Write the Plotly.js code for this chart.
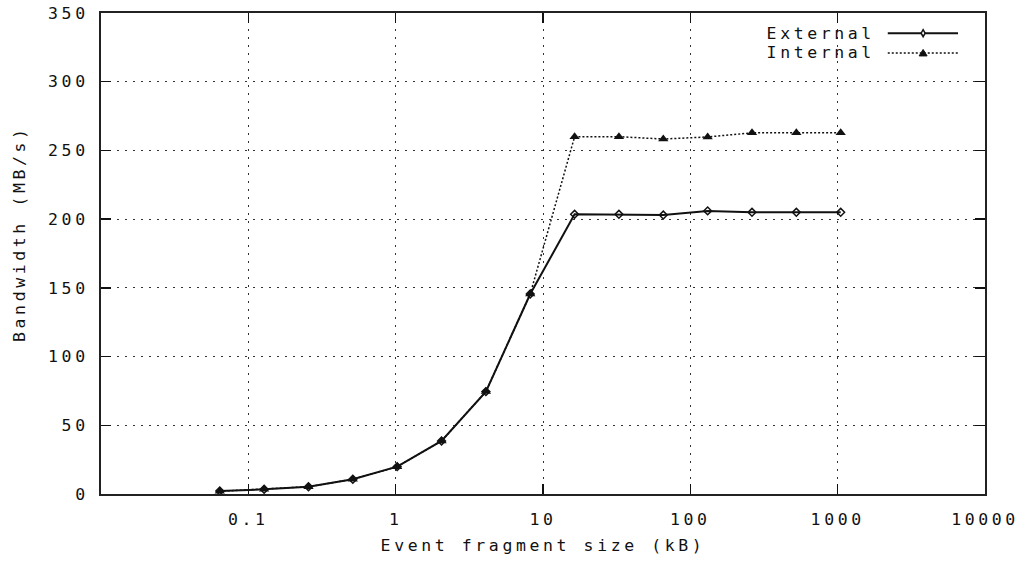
<!DOCTYPE html>
<html>
<head>
<meta charset="utf-8">
<script src="https://cdn.plot.ly/plotly-3.0.1.min.js"></script>
<style>
  html, body { margin: 0; padding: 0; background: #fff; }
  #chart { width: 1021px; height: 563px; }
  .main-svg text { letter-spacing: 3.6px; }
</style>
</head>
<body>
<div id="chart"></div>
<script>
// Event fragment size in kB
const fragmentSize = [0.064, 0.128, 0.256, 0.512, 1.024, 2.048, 4.096, 8.192, 16.384, 32.768, 65.536, 131.072, 262.144, 524.288, 1048.576];
// Bandwidth in MB/s
const externalBW = [2.2, 3.4, 5.3, 10.7, 19.9, 38.6, 74.5, 145.5, 203.5, 203.5, 203, 206, 205, 205, 205];
const internalBW = [2.0, 3.4, 5.3, 10.7, 19.9, 38.6, 74.5, 145.5, 260, 260, 258.3, 259.8, 262.8, 262.8, 262.8];

const xTickVals = [0.1, 1, 10, 100, 1000, 10000];
const xTickText = ['0.1', '1', '10', '100', '1000', '10000'];
const seriesNames = ['External', 'Internal'];

const FONT = {family: 'DejaVu Sans Mono, monospace', size: 16.5, color: '#111'};
const INK = '#111';

const traces = [
  {
    x: fragmentSize, y: externalBW, name: seriesNames[0], type: 'scatter', mode: 'lines+markers',
    line: {color: INK, width: 2},
    marker: {symbol: 'diamond-open', size: 6, color: INK, line: {width: 1.5, color: INK}},
    showlegend: false
  },
  {
    x: fragmentSize, y: internalBW, name: seriesNames[1], type: 'scatter', mode: 'lines+markers',
    line: {color: INK, width: 1.5, dash: '2px,2px'},
    marker: {symbol: 'triangle-up', size: 9, color: INK},
    showlegend: false
  }
];

// legend drawn as annotations + shapes (text first, sample on the right, as in the original)
const legY = [0.958, 0.917];
const legTextX = 0.861;
const legX0 = 0.890, legX1 = 0.9695, legMX = 0.930;

const layout = {
  width: 1021, height: 563,
  margin: {l: 101, r: 36, t: 13, b: 69},
  paper_bgcolor: '#fff', plot_bgcolor: '#fff',
  font: FONT,
  showlegend: false,
  xaxis: {
    type: 'log', range: [-2, 4],
    tickvals: xTickVals, ticktext: xTickText,
    ticks: 'inside', ticklen: 10, tickwidth: 1.5, tickcolor: INK,
    showline: true, linecolor: '#222', linewidth: 2, mirror: 'ticks',
    showgrid: true, gridcolor: '#333', gridwidth: 1, griddash: '2px,6px',
    zeroline: false,
    ticklabelstandoff: 9,
    tickfont: FONT,
    title: {text: 'Event fragment size (kB)', font: FONT, standoff: 12}
  },
  yaxis: {
    range: [0, 350], dtick: 50,
    ticks: 'inside', ticklen: 10, tickwidth: 1.5, tickcolor: INK,
    showline: true, linecolor: '#222', linewidth: 2, mirror: 'ticks',
    showgrid: true, gridcolor: '#333', gridwidth: 1, griddash: '2px,6px',
    zeroline: false,
    ticklabelstandoff: 7,
    tickfont: FONT,
    title: {text: ''}
  },
  annotations: [
    {text: 'Bandwidth (MB/s)', xref: 'paper', yref: 'paper', x: -0.092, y: 0.5416,
     textangle: -90, showarrow: false, font: FONT, xanchor: 'center', yanchor: 'middle'},
    {text: seriesNames[0], xref: 'paper', yref: 'paper', x: legTextX, y: legY[0],
     showarrow: false, font: FONT, xanchor: 'right', yanchor: 'middle'},
    {text: seriesNames[1], xref: 'paper', yref: 'paper', x: legTextX, y: legY[1],
     showarrow: false, font: FONT, xanchor: 'right', yanchor: 'middle'}
  ],
  shapes: [
    {type: 'line', xref: 'paper', yref: 'paper', x0: legX0, x1: legX1, y0: legY[0], y1: legY[0],
     line: {color: INK, width: 2}},
    {type: 'line', xref: 'paper', yref: 'paper', x0: legX0, x1: legX1, y0: legY[1], y1: legY[1],
     line: {color: INK, width: 1.5, dash: '2px,2px'}},
    {type: 'path', xref: 'paper', yref: 'paper', xsizemode: 'pixel', ysizemode: 'pixel',
     xanchor: legMX, yanchor: legY[0], path: 'M 0 3.5 L 2 0 L 0 -3.5 L -2 0 Z',
     fillcolor: '#fff', line: {color: INK, width: 1.5}},
    {type: 'path', xref: 'paper', yref: 'paper', xsizemode: 'pixel', ysizemode: 'pixel',
     xanchor: legMX, yanchor: legY[1], path: 'M -4 -3 L 4 -3 L 0 3.5 Z',
     fillcolor: INK, line: {color: INK, width: 1}}
  ]
};

Plotly.newPlot('chart', traces, layout, {displayModeBar: false, staticPlot: true});
</script>
</body>
</html>
